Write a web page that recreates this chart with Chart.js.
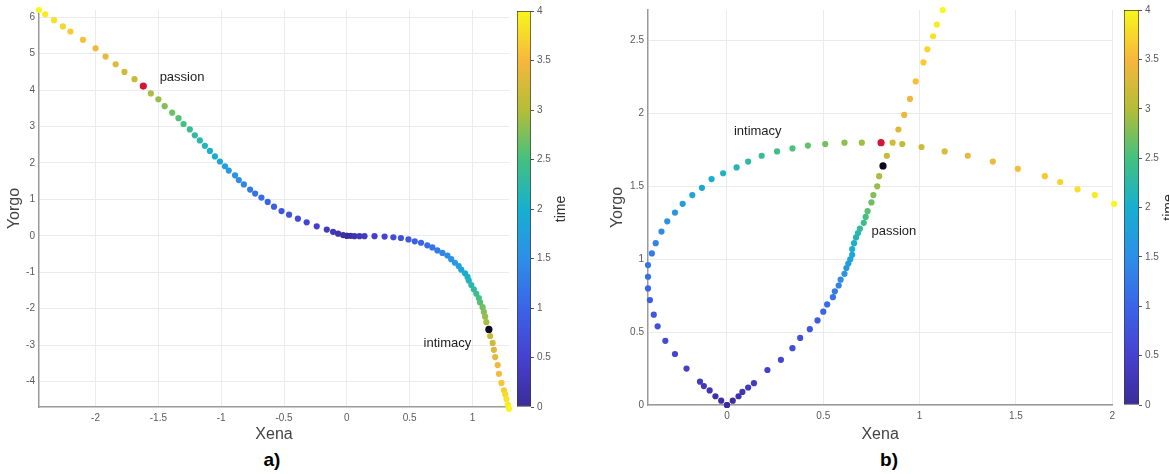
<!DOCTYPE html>
<html>
<head>
<meta charset="utf-8">
<script src="https://cdn.jsdelivr.net/npm/chart.js@4.4.1/dist/chart.umd.min.js"></script>
<style>
  html, body { margin: 0; padding: 0; background: #fff; }
  body { width: 1169px; height: 474px; position: relative; overflow: hidden; font-family: "Liberation Sans", Arial, sans-serif; }
  canvas { position: absolute; top: 0; }
  .tag { position: absolute; top: 449px; font: bold 19px "Liberation Sans", Arial, sans-serif; color: #000; transform: translateX(-50%); }
</style>
</head>
<body>
<canvas id="plotA" width="520" height="445" style="left:0"></canvas>
<canvas id="barA" width="62" height="445" style="left:510px"></canvas>
<canvas id="plotB" width="520" height="445" style="left:600px"></canvas>
<canvas id="barB" width="52" height="445" style="left:1117px"></canvas>
<div class="tag" style="left:272px">a)</div>
<div class="tag" style="left:889px">b)</div>

<script>
// colour scale (time)
const timeMin = 0;
const timeMax = 4;

// panel a) : branch going up-left
const a1X = [0, -0.03, -0.07, -0.11, -0.16, -0.24, -0.32, -0.39, -0.46, -0.52, -0.58, -0.63, -0.68, -0.73, -0.77, -0.82, -0.86, -0.89, -0.94, -0.97, -1.01, -1.05, -1.09, -1.13, -1.17, -1.21, -1.25, -1.30, -1.34, -1.39, -1.45, -1.50, -1.56, -1.62, -1.69, -1.77, -1.84, -1.92, -2.00, -2.10, -2.20, -2.26, -2.33, -2.40, -2.45];
const a1Y = [0, 0.02, 0.06, 0.11, 0.17, 0.26, 0.37, 0.47, 0.58, 0.68, 0.80, 0.93, 1.05, 1.16, 1.27, 1.41, 1.53, 1.66, 1.79, 1.91, 2.04, 2.18, 2.33, 2.47, 2.62, 2.76, 2.92, 3.07, 3.23, 3.38, 3.56, 3.75, 3.91, 4.11, 4.30, 4.50, 4.71, 4.92, 5.15, 5.38, 5.61, 5.75, 5.92, 6.08, 6.20];
const a1T = [0, 0.09, 0.18, 0.27, 0.36, 0.45, 0.54, 0.64, 0.73, 0.82, 0.91, 1.0, 1.1, 1.19, 1.28, 1.38, 1.47, 1.56, 1.65, 1.75, 1.84, 1.93, 2.03, 2.12, 2.21, 2.3, 2.4, 2.49, 2.58, 2.68, 2.77, 2.86, 2.95, 3.05, 3.14, 3.22, 3.31, 3.4, 3.48, 3.57, 3.66, 3.74, 3.83, 3.91, 4.0];

// panel a) : branch going down-right
const a2X = [0, 0.03, 0.06, 0.10, 0.14, 0.22, 0.30, 0.37, 0.43, 0.49, 0.54, 0.59, 0.64, 0.68, 0.72, 0.76, 0.80, 0.83, 0.86, 0.89, 0.91, 0.94, 0.96, 0.97, 0.99, 1.01, 1.03, 1.05, 1.06, 1.08, 1.09, 1.10, 1.11, 1.13, 1.14, 1.16, 1.17, 1.18, 1.20, 1.21, 1.23, 1.25, 1.26, 1.27, 1.28, 1.29];
const a2Y = [0, 0, -0.01, -0.01, -0.01, -0.01, -0.02, -0.04, -0.06, -0.10, -0.15, -0.19, -0.26, -0.32, -0.40, -0.47, -0.54, -0.64, -0.74, -0.83, -0.93, -1.03, -1.13, -1.23, -1.35, -1.47, -1.59, -1.71, -1.83, -1.96, -2.09, -2.22, -2.37, -2.57, -2.75, -2.94, -3.13, -3.33, -3.55, -3.79, -4.04, -4.24, -4.35, -4.48, -4.64, -4.75];
const a2T = [0, 0.09, 0.18, 0.27, 0.36, 0.45, 0.54, 0.64, 0.73, 0.82, 0.91, 1.0, 1.1, 1.19, 1.28, 1.38, 1.47, 1.56, 1.65, 1.75, 1.84, 1.93, 2.03, 2.12, 2.21, 2.3, 2.4, 2.49, 2.58, 2.68, 2.77, 2.86, 2.95, 3.05, 3.13, 3.21, 3.29, 3.37, 3.45, 3.52, 3.6, 3.68, 3.76, 3.84, 3.92, 4.0];

// panel a) : highlighted points (red, black)
const aMarkX = [-1.62, 1.13];
const aMarkY = [4.11, -2.57];

// panel b) : loop branch (left, then over the top)
const b1X = [0, -0.03, -0.06, -0.09, -0.12, -0.14, -0.21, -0.27, -0.32, -0.36, -0.38, -0.40, -0.41, -0.41, -0.41, -0.39, -0.37, -0.34, -0.31, -0.27, -0.23, -0.18, -0.13, -0.08, -0.02, 0.05, 0.11, 0.18, 0.26, 0.34, 0.42, 0.51, 0.61, 0.70, 0.80, 0.91, 1.01, 1.13, 1.25, 1.38, 1.51, 1.65, 1.73, 1.82, 1.91, 2.01];
const b1Y = [0, 0.03, 0.06, 0.10, 0.13, 0.16, 0.25, 0.35, 0.44, 0.54, 0.62, 0.72, 0.80, 0.88, 0.96, 1.04, 1.11, 1.19, 1.26, 1.32, 1.38, 1.44, 1.49, 1.55, 1.59, 1.63, 1.67, 1.71, 1.74, 1.76, 1.78, 1.79, 1.80, 1.80, 1.80, 1.79, 1.77, 1.74, 1.71, 1.67, 1.62, 1.57, 1.53, 1.48, 1.44, 1.38];
const b1T = [0, 0.08, 0.15, 0.23, 0.3, 0.37, 0.45, 0.54, 0.63, 0.72, 0.81, 0.9, 1.0, 1.09, 1.18, 1.27, 1.36, 1.45, 1.54, 1.63, 1.72, 1.81, 1.91, 2.0, 2.09, 2.18, 2.27, 2.36, 2.45, 2.54, 2.63, 2.72, 2.82, 2.91, 3.0, 3.09, 3.18, 3.27, 3.36, 3.45, 3.54, 3.63, 3.73, 3.82, 3.91, 4.0];

// panel b) : rising branch
const b2X = [0, 0.03, 0.06, 0.08, 0.11, 0.14, 0.21, 0.28, 0.34, 0.38, 0.43, 0.47, 0.50, 0.52, 0.55, 0.56, 0.58, 0.59, 0.61, 0.62, 0.63, 0.64, 0.65, 0.65, 0.66, 0.67, 0.68, 0.69, 0.71, 0.72, 0.73, 0.75, 0.76, 0.78, 0.79, 0.81, 0.83, 0.86, 0.89, 0.92, 0.95, 0.98, 1.02, 1.04, 1.07, 1.09, 1.12];
const b2Y = [0, 0.03, 0.06, 0.09, 0.12, 0.15, 0.24, 0.31, 0.39, 0.46, 0.52, 0.58, 0.64, 0.69, 0.74, 0.78, 0.82, 0.86, 0.90, 0.94, 0.97, 1.00, 1.03, 1.07, 1.11, 1.15, 1.18, 1.21, 1.25, 1.29, 1.33, 1.39, 1.44, 1.50, 1.57, 1.64, 1.71, 1.80, 1.89, 1.99, 2.10, 2.22, 2.35, 2.44, 2.53, 2.61, 2.71];
const b2T = [0, 0.08, 0.15, 0.23, 0.3, 0.37, 0.45, 0.54, 0.63, 0.72, 0.81, 0.9, 0.99, 1.08, 1.17, 1.26, 1.35, 1.44, 1.53, 1.62, 1.71, 1.79, 1.88, 1.97, 2.06, 2.15, 2.24, 2.33, 2.42, 2.51, 2.6, 2.69, 2.78, 2.87, 2.96, 3.05, 3.14, 3.22, 3.31, 3.4, 3.48, 3.57, 3.66, 3.74, 3.83, 3.91, 4.0];

// panel b) : highlighted points (red, black)
const bMarkX = [0.80, 0.81];
const bMarkY = [1.80, 1.64];

// text labels next to the curves
const aNotes = [{ text: 'passion', x: -1.49, y: 4.34 }, { text: 'intimacy', x: 0.61, y: -2.96 }];
const bNotes = [{ text: 'intimacy', x: 0.036, y: 1.88 }, { text: 'passion', x: 0.75, y: 1.19 }];

// parula-like colormap
const parulaStops = [[59, 44, 153], [70, 65, 208], [58, 100, 232], [45, 143, 232], [23, 175, 208], [67, 193, 127], [181, 189, 55], [247, 183, 60], [248, 247, 26]];

function parula(t) {
  const f = Math.max(0, Math.min(1, (t - timeMin) / (timeMax - timeMin))) * (parulaStops.length - 1);
  const i = Math.min(Math.floor(f), parulaStops.length - 2);
  const k = f - i;
  const a = parulaStops[i], b = parulaStops[i + 1];
  return 'rgb(' + a.map((v, j) => Math.round(v + (b[j] - v) * k)).join(',') + ')';
}

function toPoints(xs, ys) {
  return xs.map((x, i) => ({ x: x, y: ys[i] }));
}

// 0.5 -> "0.5", 2 -> "2", -1.5 -> "-1.5"
function plainNumber(v) {
  return String(Math.round(v * 100) / 100);
}

const notesPlugin = {
  id: 'notes',
  afterDatasetsDraw(chart, args, opts) {
    const { ctx, scales } = chart;
    ctx.save();
    ctx.font = '13px "Liberation Sans", Arial, sans-serif';
    ctx.fillStyle = '#1e1e1e';
    ctx.textBaseline = 'middle';
    opts.items.forEach(n => {
      ctx.fillText(n.text, scales.x.getPixelForValue(n.x), scales.y.getPixelForValue(n.y));
    });
    ctx.restore();
  }
};

const timeLabel = {
  id: 'timeLabel',
  afterDraw(chart) {
    const { ctx, chartArea } = chart;
    ctx.save();
    ctx.translate(chartArea.right + 30, (chartArea.top + chartArea.bottom) / 2);
    ctx.rotate(-Math.PI / 2);
    ctx.font = '14px "Liberation Sans", Arial, sans-serif';
    ctx.fillStyle = '#333';
    ctx.textAlign = 'center';
    ctx.textBaseline = 'middle';
    ctx.fillText('time', 0, 0);
    ctx.restore();
  }
};

const tickFont = { family: '"Liberation Sans", Arial, sans-serif', size: 10 };
const titleFont = { family: '"Liberation Sans", Arial, sans-serif', size: 16 };

function drawPlot(id, p) {
  const dot = { pointRadius: 3.1, pointBorderWidth: 0, pointHoverRadius: 3.1, showLine: false, clip: false };
  new Chart(document.getElementById(id), {
    type: 'scatter',
    data: {
      datasets: [
        Object.assign({}, dot, { data: toPoints(p.markX, p.markY), pointBackgroundColor: ['#d5143b', '#0b0b25'], pointRadius: 3.6 }),
        Object.assign({}, dot, { data: toPoints(p.x1, p.y1), pointBackgroundColor: p.t1.map(parula) }),
        Object.assign({}, dot, { data: toPoints(p.x2, p.y2), pointBackgroundColor: p.t2.map(parula) })
      ]
    },
    options: {
      responsive: false,
      animation: false,
      layout: { padding: { left: 0, top: 10, right: p.padRight, bottom: 0 } },
      plugins: {
        legend: { display: false },
        tooltip: { enabled: false },
        notes: { items: p.notes }
      },
      scales: {
        x: {
          type: 'linear', min: p.xMin, max: p.xMax,
          afterFit: s => { s.height = p.xAxisHeight; },
          ticks: { stepSize: 0.5, includeBounds: false, color: '#5a5a5a', font: tickFont, padding: 5, maxRotation: 0, callback: plainNumber },
          grid: { color: '#ebebeb', drawTicks: false },
          border: { color: '#9a9a9a', width: 1.5 },
          title: { display: true, text: 'Xena', color: '#444', font: titleFont, padding: { top: 0, bottom: 1 } }
        },
        y: {
          type: 'linear', min: p.yMin, max: p.yMax,
          afterFit: s => { s.width = p.yAxisWidth; },
          ticks: { stepSize: p.yStep, includeBounds: false, color: '#5a5a5a', font: tickFont, padding: 4, callback: plainNumber },
          grid: { color: '#ebebeb', drawTicks: false },
          border: { color: '#9a9a9a', width: 1.5 },
          title: { display: true, text: 'Yorgo', color: '#444', font: titleFont, padding: { top: p.yTitlePad, bottom: 0 } }
        }
      }
    },
    plugins: [notesPlugin]
  });
}

function barGradient(chart) {
  const area = chart.chartArea;
  if (!area) return 'transparent';
  const g = chart.ctx.createLinearGradient(0, area.bottom, 0, area.top);
  parulaStops.forEach((c, i) => g.addColorStop(i / (parulaStops.length - 1), 'rgb(' + c.join(',') + ')'));
  return g;
}

function drawColorbar(id, padTop, padBottom, axisWidth) {
  new Chart(document.getElementById(id), {
    type: 'bar',
    data: {
      labels: ['time'],
      datasets: [{
        data: [[timeMin, timeMax]],
        backgroundColor: c => barGradient(c.chart),
        borderColor: '#3a3a3a', borderWidth: 1, borderSkipped: false,
        barPercentage: 1, categoryPercentage: 1
      }]
    },
    options: {
      responsive: false,
      animation: false,
      layout: { padding: { left: 7, top: padTop, right: 0, bottom: padBottom } },
      plugins: { legend: { display: false }, tooltip: { enabled: false } },
      scales: {
        x: { display: false },
        y: {
          position: 'right', min: timeMin, max: timeMax,
          afterFit: s => { s.width = axisWidth; },
          ticks: { stepSize: 0.5, color: '#5a5a5a', font: tickFont, padding: 3, callback: plainNumber },
          grid: { drawOnChartArea: false, tickLength: 3, color: '#555' },
          border: { display: false }
        }
      }
    },
    plugins: [timeLabel]
  });
}

drawPlot('plotA', {
  x1: a1X, y1: a1Y, t1: a1T, x2: a2X, y2: a2Y, t2: a2T, markX: aMarkX, markY: aMarkY, notes: aNotes,
  xMin: -2.45, xMax: 1.29, yMin: -4.7, yMax: 6.2, yStep: 1,
  yAxisWidth: 39, xAxisHeight: 38, padRight: 11, yTitlePad: 5
});
drawPlot('plotB', {
  x1: b1X, y1: b1Y, t1: b1T, x2: b2X, y2: b2Y, t2: b2T, markX: bMarkX, markY: bMarkY, notes: bNotes,
  xMin: -0.41, xMax: 2, yMin: 0, yMax: 2.71, yStep: 0.5,
  yAxisWidth: 48, xAxisHeight: 40, padRight: 7, yTitlePad: 8
});
drawColorbar('barA', 11, 38, 41);
drawColorbar('barB', 10, 40, 30);
</script>
</body>
</html>
